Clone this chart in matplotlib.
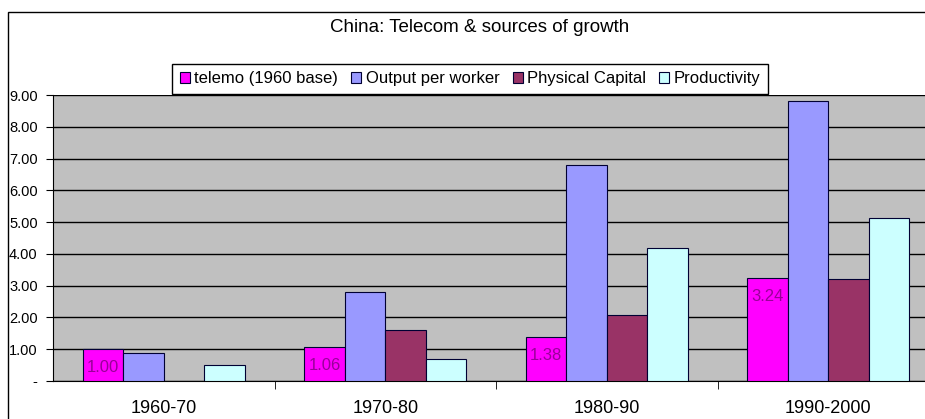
import matplotlib.pyplot as plt
import matplotlib.patches as mpatches
import numpy as np

periods = ["1960-70", "1970-80", "1980-90", "1990-2000"]
series_names = ["telemo (1960 base)", "Output per worker", "Physical Capital", "Productivity"]
telemo = [1.00, 1.06, 1.38, 3.24]
output_per_worker = [0.87, 2.81, 6.79, 8.81]
physical_capital = [np.nan, 1.60, 2.08, 3.20]
productivity = [0.50, 0.70, 4.17, 5.14]
yticks = [0, 1, 2, 3, 4, 5, 6, 7, 8, 9]
ytick_labels = ["-", "1.00", "2.00", "3.00", "4.00", "5.00", "6.00", "7.00", "8.00", "9.00"]

colors = ["#FF00FF", "#9999FF", "#993366", "#CCFFFF"]

plt.rcParams['font.family'] = ['Liberation Sans', 'DejaVu Sans']

W, H = 925, 419
fig = plt.figure(figsize=(W / 100, H / 100), dpi=100)
fig.patch.set_facecolor("white")

# outer chart frame (runs off the right and bottom edges)
frame = mpatches.Rectangle((8 / W, -0.2), 2.0, 1.2 - 12 / H, transform=fig.transFigure,
                           fill=False, edgecolor="black", lw=1.0, zorder=0)
fig.patches.append(frame)

ax = fig.add_axes([53 / W, 38 / H, 886 / W, 286 / H])
ax.set_facecolor("#C0C0C0")

ind = np.arange(len(periods))
width = 0.183
all_series = [telemo, output_per_worker, physical_capital, productivity]
for j, (vals, col) in enumerate(zip(all_series, colors)):
    ax.bar(ind + (j - 1.5) * width, vals, width, color=col, edgecolor="#000033",
           lw=0.8, zorder=3, label=series_names[j])

# value labels on the telemo bars
for x, v in zip(ind - 1.5 * width, telemo):
    ax.text(x, v - 0.58, "%.2f" % v, ha="center", va="center", fontsize=12,
            color="#990099", zorder=4)

ax.set_xlim(-0.5, 3.5)
ax.set_ylim(0, 9)
ax.set_yticks(yticks)
ax.set_yticklabels(ytick_labels, fontsize=10.5)
ax.yaxis.grid(True, color="black", lw=1.0, zorder=1)
ax.set_axisbelow(True)

ax.set_xticks(ind)
ax.set_xticklabels(periods, fontsize=13)
ax.tick_params(axis="x", length=0, pad=14)
ax.set_xticks(np.arange(0.5, 3.5, 1.0), minor=True)
ax.tick_params(axis="x", which="minor", length=6, direction="out", color="black")
ax.tick_params(axis="y", length=5, direction="out", color="black", pad=6)

for s in ["top", "right"]:
    ax.spines[s].set_visible(False)
ax.spines["left"].set_color("black")
ax.spines["bottom"].set_color("black")

fig.text(480 / W, 1 - 28 / H, "China: Telecom & sources of growth", ha="center", va="center",
         fontsize=13.5)

leg = fig.legend(loc="center", bbox_to_anchor=(470 / W, 1 - 79 / H), ncol=4, fontsize=12,
                 frameon=True, fancybox=False, handlelength=0.6, handleheight=0.6,
                 handletextpad=0.25, columnspacing=0.8, borderpad=0.45, borderaxespad=0)
leg.get_frame().set_edgecolor("black")
leg.get_frame().set_linewidth(1.0)
leg.get_frame().set_facecolor("white")
leg.get_frame().set_alpha(1)
leg.set_zorder(10)

fig.savefig("out.png", dpi=100)
